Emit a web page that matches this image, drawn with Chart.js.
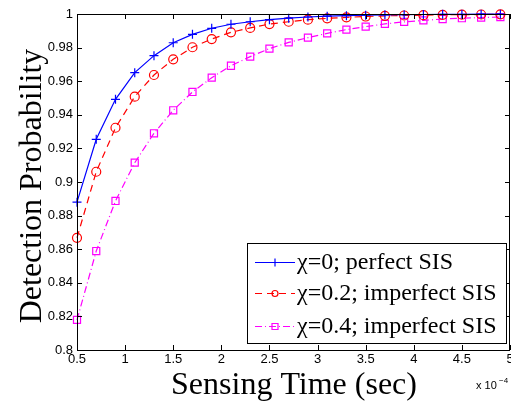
<!DOCTYPE html>
<html>
<head>
<meta charset="utf-8">
<script src="https://cdn.jsdelivr.net/npm/chart.js@4.4.1/dist/chart.umd.min.js"></script>
<style>
  html, body { margin: 0; padding: 0; background: #fff; }
  #wrap { width: 511px; height: 403px; }
</style>
</head>
<body>
<div id="wrap"><canvas id="chart" width="511" height="403"></canvas></div>
<script>
// sensing time (x 1e-4 sec)
const sensingTime = [0.5, 0.7, 0.9, 1.1, 1.3, 1.5, 1.7, 1.9, 2.1, 2.3, 2.5, 2.7,
                     2.9, 3.1, 3.3, 3.5, 3.7, 3.9, 4.1, 4.3, 4.5, 4.7, 4.9];

const perfectSIS = [0.888, 0.9254, 0.9492, 0.9651, 0.9752, 0.9829, 0.9879, 0.9915,
                    0.9939, 0.9954, 0.9966, 0.9975, 0.9982, 0.9987, 0.999, 0.9993,
                    0.9995, 0.9996, 0.9997, 0.9998, 0.9998, 0.9999, 0.9999];

const imperfect02 = [0.8668, 0.9061, 0.9323, 0.9508, 0.9637, 0.973, 0.9802, 0.9851,
                     0.9891, 0.9917, 0.994, 0.9954, 0.9966, 0.9974, 0.998, 0.9985,
                     0.9989, 0.9991, 0.9993, 0.9995, 0.9996, 0.9997, 0.9998];

const imperfect04 = [0.8179, 0.8589, 0.8887, 0.9115, 0.929, 0.9427, 0.9536, 0.9621,
                     0.9692, 0.9746, 0.9794, 0.9831, 0.9859, 0.9885, 0.9907, 0.9925,
                     0.9941, 0.9953, 0.9962, 0.997, 0.9975, 0.9979, 0.9982];

const xTicks = [0.5, 1, 1.5, 2, 2.5, 3, 3.5, 4, 4.5, 5];
const xTickLabels = ["0.5", "1", "1.5", "2", "2.5", "3", "3.5", "4", "4.5", "5"];
const yTicks = [0.8, 0.82, 0.84, 0.86, 0.88, 0.9, 0.92, 0.94, 0.96, 0.98, 1];
const yTickLabels = ["0.8", "0.82", "0.84", "0.86", "0.88", "0.9", "0.92", "0.94", "0.96", "0.98", "1"];

const seriesNames = ["\u03C7=0; perfect SIS", "\u03C7=0.2; imperfect SIS", "\u03C7=0.4; imperfect SIS"];

function pts(ys) {
  return sensingTime.map((x, i) => ({ x: x, y: ys[i] }));
}

// MATLAB-like box, inside ticks, labels and legend
const matlabFrame = {
  id: "matlabFrame",
  afterDatasetsDraw(chart) {
    const ctx = chart.ctx;
    const a = chart.chartArea;
    const xs = chart.scales.x, ys = chart.scales.y;
    ctx.save();

    ctx.strokeStyle = "#000";
    ctx.lineWidth = 1;
    ctx.setLineDash([]);
    ctx.strokeRect(a.left + 0.5, a.top + 0.5, a.right - a.left - 1, a.bottom - a.top);

    ctx.beginPath();
    const tl = 5;
    xTicks.forEach(v => {
      const px = Math.round(xs.getPixelForValue(v)) + 0.5;
      ctx.moveTo(px, a.bottom); ctx.lineTo(px, a.bottom - tl);
      ctx.moveTo(px, a.top); ctx.lineTo(px, a.top + tl);
    });
    yTicks.forEach(v => {
      const py = Math.round(ys.getPixelForValue(v)) + 0.5;
      ctx.moveTo(a.left, py); ctx.lineTo(a.left + tl, py);
      ctx.moveTo(a.right, py); ctx.lineTo(a.right - tl, py);
    });
    ctx.stroke();

    ctx.fillStyle = "#000";
    ctx.font = "13px 'Liberation Sans', Arial, sans-serif";
    ctx.textAlign = "center";
    ctx.textBaseline = "top";
    xTicks.forEach((v, i) => {
      ctx.fillText(xTickLabels[i], xs.getPixelForValue(v), a.bottom + 3);
    });
    ctx.textAlign = "right";
    ctx.textBaseline = "middle";
    yTicks.forEach((v, i) => {
      ctx.fillText(yTickLabels[i], a.left - 4, ys.getPixelForValue(v));
    });

    // exponent label
    ctx.font = "11px 'Liberation Sans', Arial, sans-serif";
    ctx.textAlign = "left";
    ctx.textBaseline = "alphabetic";
    ctx.fillText("x 10", 476, 389);
    ctx.font = "8px 'Liberation Sans', Arial, sans-serif";
    ctx.fillText("\u22124", 499, 383);

    // axis titles
    ctx.font = "32px 'Liberation Serif', 'Times New Roman', serif";
    ctx.textAlign = "center";
    ctx.textBaseline = "alphabetic";
    ctx.fillText("Sensing Time (sec)", 294, 394);
    ctx.save();
    ctx.translate(41, 186);
    ctx.rotate(-Math.PI / 2);
    ctx.fillText("Detection Probability", 0, 0);
    ctx.restore();

    // legend
    const lx = 247, ly = 243, lw = 260, lh = 101;
    ctx.fillStyle = "#fff";
    ctx.fillRect(lx, ly, lw, lh);
    ctx.strokeStyle = "#000";
    ctx.strokeRect(lx + 0.5, ly + 0.5, lw - 1, lh - 1);
    const rowsY = [262, 293, 326];
    chart.data.datasets.forEach((ds, i) => {
      const y = rowsY[i] + 0.5;
      ctx.strokeStyle = ds.borderColor;
      ctx.lineWidth = 1.2;
      ctx.setLineDash(ds.borderDash || []);
      ctx.beginPath();
      ctx.moveTo(255, y); ctx.lineTo(295, y);
      ctx.stroke();
      ctx.setLineDash([]);
      ctx.beginPath();
      const cx = 275;
      if (ds.pointStyle === "cross") {
        ctx.moveTo(cx - 4, y); ctx.lineTo(cx + 4, y);
        ctx.moveTo(cx, y - 4); ctx.lineTo(cx, y + 4);
      } else if (ds.pointStyle === "circle") {
        ctx.arc(cx, y, 3, 0, Math.PI * 2);
      } else {
        ctx.rect(cx - 3, y - 3, 6, 6);
      }
      ctx.stroke();
      ctx.fillStyle = "#000";
      ctx.font = "24px 'Liberation Serif', 'Times New Roman', serif";
      ctx.textAlign = "left";
      ctx.textBaseline = "middle";
      ctx.fillText(seriesNames[i], 297, rowsY[i] + 1);
    });

    ctx.restore();
  }
};

new Chart(document.getElementById("chart"), {
  type: "line",
  data: {
    datasets: [
      {
        label: seriesNames[0],
        data: pts(perfectSIS),
        borderColor: "#0000ff",
        backgroundColor: "rgba(0,0,0,0)",
        borderWidth: 1.2,
        pointStyle: "cross",
        pointRadius: 4.5,
        pointBorderWidth: 1.2,
        clip: false
      },
      {
        label: seriesNames[1],
        data: pts(imperfect02),
        borderColor: "#ff0000",
        backgroundColor: "rgba(0,0,0,0)",
        borderWidth: 1.2,
        borderDash: [7, 5],
        pointStyle: "circle",
        pointRadius: 4.5,
        pointBorderWidth: 1.2,
        clip: false
      },
      {
        label: seriesNames[2],
        data: pts(imperfect04),
        borderColor: "#ff00ff",
        backgroundColor: "rgba(0,0,0,0)",
        borderWidth: 1.2,
        borderDash: [7, 3, 1, 3],
        pointStyle: "rect",
        pointRadius: 5,
        pointBorderWidth: 1.2,
        clip: false
      }
    ]
  },
  options: {
    responsive: false,
    animation: false,
    devicePixelRatio: 1,
    layout: { autoPadding: false, padding: { left: 77, right: 1, top: 14, bottom: 53 } },
    plugins: { legend: { display: false }, tooltip: { enabled: false } },
    elements: { line: { tension: 0 } },
    scales: {
      x: { type: "linear", min: 0.5, max: 5, display: false },
      y: { type: "linear", min: 0.8, max: 1, display: false }
    }
  },
  plugins: [matlabFrame]
});
</script>
</body>
</html>
